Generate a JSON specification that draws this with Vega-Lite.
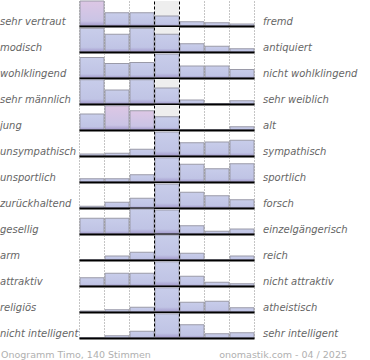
{
  "$schema": "https://vega.github.io/schema/vega-lite/v6.json",
  "padding": 0,
  "background": "white",
  "datasets": {
    "paare": [
      {"z": 1, "links": "sehr vertraut", "rechts": "fremd"},
      {"z": 2, "links": "modisch", "rechts": "antiquiert"},
      {"z": 3, "links": "wohlklingend", "rechts": "nicht wohlklingend"},
      {"z": 4, "links": "sehr männlich", "rechts": "sehr weiblich"},
      {"z": 5, "links": "\u2002jung", "rechts": "alt"},
      {"z": 6, "links": "unsympathisch", "rechts": "sympathisch"},
      {"z": 7, "links": "unsportlich", "rechts": "sportlich"},
      {"z": 8, "links": "zurückhaltend", "rechts": "forsch"},
      {"z": 9, "links": "gesellig", "rechts": "einzelgängerisch"},
      {"z": 10, "links": "arm", "rechts": "reich"},
      {"z": 11, "links": "attraktiv", "rechts": "nicht attraktiv"},
      {"z": 12, "links": "religiös", "rechts": "atheistisch"},
      {"z": 13, "links": "nicht intelligent", "rechts": "sehr intelligent"}
    ],
    "werte": [
      {"z":1,"k":1,"v":100,"g":"p"},{"z":1,"k":2,"v":53,"g":"b"},{"z":1,"k":3,"v":53,"g":"b"},{"z":1,"k":4,"v":40,"g":"b"},{"z":1,"k":5,"v":17,"g":"b"},{"z":1,"k":6,"v":13,"g":"b"},{"z":1,"k":7,"v":8,"g":"b"},
      {"z":2,"k":1,"v":95,"g":"b"},{"z":2,"k":2,"v":71,"g":"b"},{"z":2,"k":3,"v":95,"g":"b"},{"z":2,"k":4,"v":71,"g":"b"},{"z":2,"k":5,"v":33,"g":"b"},{"z":2,"k":6,"v":23,"g":"b"},{"z":2,"k":7,"v":13,"g":"b"},
      {"z":3,"k":1,"v":82,"g":"b"},{"z":3,"k":2,"v":58,"g":"b"},{"z":3,"k":3,"v":62,"g":"b"},{"z":3,"k":4,"v":96,"g":"b"},{"z":3,"k":5,"v":48,"g":"b"},{"z":3,"k":6,"v":48,"g":"b"},{"z":3,"k":7,"v":34,"g":"b"},
      {"z":4,"k":1,"v":97,"g":"b"},{"z":4,"k":2,"v":56,"g":"b"},{"z":4,"k":3,"v":97,"g":"b"},{"z":4,"k":4,"v":64,"g":"b"},{"z":4,"k":5,"v":16,"g":"b"},{"z":4,"k":6,"v":2,"g":"b"},{"z":4,"k":7,"v":13,"g":"b"},
      {"z":5,"k":1,"v":64,"g":"b"},{"z":5,"k":2,"v":97,"g":"p"},{"z":5,"k":3,"v":77,"g":"p"},{"z":5,"k":4,"v":53,"g":"b"},{"z":5,"k":5,"v":2,"g":"b"},{"z":5,"k":6,"v":2,"g":"b"},{"z":5,"k":7,"v":13,"g":"b"},
      {"z":6,"k":1,"v":8,"g":"b"},{"z":6,"k":2,"v":11,"g":"b"},{"z":6,"k":3,"v":27,"g":"b"},{"z":6,"k":4,"v":96,"g":"b"},{"z":6,"k":5,"v":53,"g":"b"},{"z":6,"k":6,"v":56,"g":"b"},{"z":6,"k":7,"v":63,"g":"b"},
      {"z":7,"k":1,"v":13,"g":"b"},{"z":7,"k":2,"v":13,"g":"b"},{"z":7,"k":3,"v":29,"g":"b"},{"z":7,"k":4,"v":97,"g":"b"},{"z":7,"k":5,"v":71,"g":"b"},{"z":7,"k":6,"v":53,"g":"b"},{"z":7,"k":7,"v":73,"g":"b"},
      {"z":8,"k":1,"v":7,"g":"b"},{"z":8,"k":2,"v":23,"g":"b"},{"z":8,"k":3,"v":39,"g":"b"},{"z":8,"k":4,"v":96,"g":"b"},{"z":8,"k":5,"v":63,"g":"b"},{"z":8,"k":6,"v":49,"g":"b"},{"z":8,"k":7,"v":33,"g":"b"},
      {"z":9,"k":1,"v":63,"g":"b"},{"z":9,"k":2,"v":63,"g":"b"},{"z":9,"k":3,"v":100,"g":"b"},{"z":9,"k":4,"v":96,"g":"b"},{"z":9,"k":5,"v":33,"g":"b"},{"z":9,"k":6,"v":11,"g":"b"},{"z":9,"k":7,"v":20,"g":"b"},
      {"z":10,"k":1,"v":1,"g":"b"},{"z":10,"k":2,"v":16,"g":"b"},{"z":10,"k":3,"v":31,"g":"b"},{"z":10,"k":4,"v":100,"g":"b"},{"z":10,"k":5,"v":27,"g":"b"},{"z":10,"k":6,"v":1,"g":"b"},{"z":10,"k":7,"v":16,"g":"b"},
      {"z":11,"k":1,"v":33,"g":"b"},{"z":11,"k":2,"v":51,"g":"b"},{"z":11,"k":3,"v":51,"g":"b"},{"z":11,"k":4,"v":97,"g":"b"},{"z":11,"k":5,"v":39,"g":"b"},{"z":11,"k":6,"v":15,"g":"b"},{"z":11,"k":7,"v":9,"g":"b"},
      {"z":12,"k":1,"v":4,"g":"b"},{"z":12,"k":2,"v":9,"g":"b"},{"z":12,"k":3,"v":19,"g":"b"},{"z":12,"k":4,"v":97,"g":"b"},{"z":12,"k":5,"v":39,"g":"b"},{"z":12,"k":6,"v":43,"g":"b"},{"z":12,"k":7,"v":17,"g":"b"},
      {"z":13,"k":1,"v":2,"g":"b"},{"z":13,"k":2,"v":9,"g":"b"},{"z":13,"k":3,"v":27,"g":"b"},{"z":13,"k":4,"v":97,"g":"b"},{"z":13,"k":5,"v":53,"g":"b"},{"z":13,"k":6,"v":17,"g":"b"},{"z":13,"k":7,"v":21,"g":"b"}
    ]
  },
  "data": {"name": "werte"},
  "transform": [
    {"lookup": "z", "from": {"data": {"name": "paare"}, "key": "z", "fields": ["links", "rechts"]}}
  ],
  "facet": {"row": {"field": "z", "type": "ordinal", "header": null}},
  "spacing": 1,
  "bounds": "flush",
  "resolve": {"axis": {"x": "independent"}},
  "spec": {
    "width": 175,
    "height": 25,
    "layer": [
      {
        "transform": [{"filter": "datum.k == 1"}],
        "mark": {"type": "rect", "fill": "#eeeeee"},
        "encoding": {
          "x": {"datum": 3.5, "type": "quantitative", "scale": {"domain": [0.5, 7.5], "nice": false, "zero": false}},
          "x2": {"datum": 4.5},
          "y": {"datum": 0, "type": "quantitative", "scale": {"domain": [0, 100], "nice": false}, "axis": null},
          "y2": {"datum": 100}
        }
      },
      {
        "transform": [{"filter": "datum.g == 'b'"}],
        "mark": {
          "type": "bar",
          "fill": {"gradient": "linear", "x1": 0, "y1": 0, "x2": 0, "y2": 1,
            "stops": [{"offset": 0, "color": "#c8cdea"}, {"offset": 0.8, "color": "#c0c4e5"}, {"offset": 1, "color": "#a298cb"}]},
          "stroke": "#9a9aa8",
          "strokeWidth": 1
        },
        "encoding": {
          "x": {"field": "k", "type": "quantitative", "bin": {"extent": [0.5, 7.5], "step": 1, "nice": false},
            "scale": {"domain": [0.5, 7.5], "nice": false, "zero": false},
            "axis": {
              "orient": "bottom", "labels": false, "ticks": false, "title": null,
              "minExtent": 0, "maxExtent": 0, "offset": 0,
              "domain": true, "domainColor": "black", "domainWidth": 2,
              "grid": true, "values": [0.5, 1.5, 2.5, 3.5, 4.5, 5.5, 6.5, 7.5],
              "gridColor": {"condition": {"test": "datum.value == 3.5 || datum.value == 4.5", "value": "black"}, "value": "#8a8a8a"},
              "gridDash": {"condition": {"test": "datum.value == 3.5 || datum.value == 4.5", "value": [3, 2]}, "value": [1, 2]},
              "gridWidth": 1,
              "zindex": 1
            }
          },
          "y": {"field": "v", "type": "quantitative", "scale": {"domain": [0, 100], "nice": false}, "axis": null}
        }
      },
      {
        "transform": [{"filter": "datum.g == 'p'"}],
        "mark": {
          "type": "bar",
          "fill": {"gradient": "linear", "x1": 0, "y1": 0, "x2": 0, "y2": 1,
            "stops": [{"offset": 0, "color": "#ddc7e5"}, {"offset": 0.8, "color": "#cac4e5"}, {"offset": 1, "color": "#a298cb"}]},
          "stroke": "#9a9aa8",
          "strokeWidth": 1
        },
        "encoding": {
          "x": {"field": "k", "type": "quantitative", "bin": {"extent": [0.5, 7.5], "step": 1, "nice": false}},
          "y": {"field": "v", "type": "quantitative"}
        }
      },
      {
        "transform": [{"filter": "datum.k == 1"}],
        "mark": {"type": "text", "align": "left", "baseline": "alphabetic", "font": "DejaVu Sans", "fontStyle": "italic", "fontSize": 10, "color": "#666666", "clip": false},
        "encoding": {
          "x": {"datum": -2.66, "type": "quantitative"},
          "y": {"datum": 4, "type": "quantitative"},
          "text": {"field": "links"}
        }
      },
      {
        "transform": [{"filter": "datum.k == 1"}],
        "mark": {"type": "text", "align": "left", "baseline": "alphabetic", "font": "DejaVu Sans", "fontStyle": "italic", "fontSize": 10, "color": "#666666", "clip": false},
        "encoding": {
          "x": {"datum": 7.86, "type": "quantitative"},
          "y": {"datum": 4, "type": "quantitative"},
          "text": {"field": "rechts"}
        }
      },
      {
        "transform": [{"filter": "datum.k == 1 && datum.z == 13"}],
        "mark": {"type": "text", "align": "left", "baseline": "alphabetic", "font": "DejaVu Sans", "fontSize": 9.5, "color": "#b0b0b0", "clip": false, "text": "Onogramm Timo, 140 Stimmen"},
        "encoding": {
          "x": {"datum": -2.62, "type": "quantitative"},
          "y": {"datum": -80, "type": "quantitative"}
        }
      },
      {
        "transform": [{"filter": "datum.k == 1 && datum.z == 13"}],
        "mark": {"type": "text", "align": "right", "baseline": "alphabetic", "font": "DejaVu Sans", "fontSize": 9.5, "color": "#b0b0b0", "clip": false, "text": "onomastik.com - 04 / 2025"},
        "encoding": {
          "x": {"datum": 11.22, "type": "quantitative"},
          "y": {"datum": -80, "type": "quantitative"}
        }
      }
    ]
  },
  "config": {"view": {"stroke": null}}
}
